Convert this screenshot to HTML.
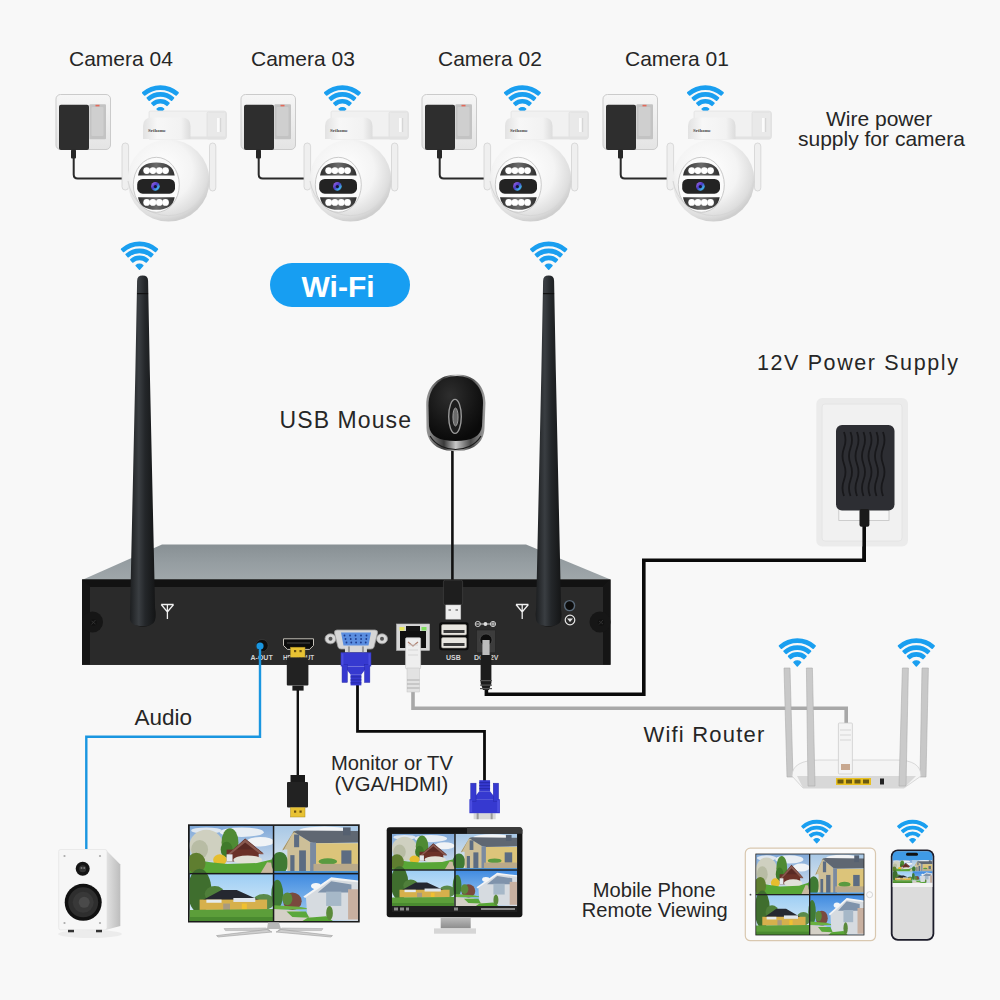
<!DOCTYPE html>
<html><head><meta charset="utf-8"><style>
html,body{margin:0;padding:0;background:#f8f8f8;}
#c{position:relative;width:1000px;height:1000px;overflow:hidden;background:#f8f8f8;}
svg{position:absolute;left:0;top:0;}
text{font-family:"Liberation Sans",sans-serif;fill:#262626;}
</style></head><body><div id="c">
<svg width="1000" height="1000" viewBox="0 0 1000 1000">
<defs>
<radialGradient id="ballg" cx="0.42" cy="0.38" r="0.62">
<stop offset="0" stop-color="#ffffff"/><stop offset="0.6" stop-color="#f4f4f4"/><stop offset="0.9" stop-color="#dedede"/><stop offset="1" stop-color="#cfcfcf"/></radialGradient>
<linearGradient id="capg" x1="0" x2="1" y1="0" y2="0">
<stop offset="0" stop-color="#e2e2e2"/><stop offset="0.3" stop-color="#f7f7f7"/><stop offset="0.8" stop-color="#f2f2f2"/><stop offset="1" stop-color="#dcdcdc"/></linearGradient>
<linearGradient id="plateg" x1="0" x2="0" y1="0" y2="1">
<stop offset="0" stop-color="#f6f6f6"/><stop offset="1" stop-color="#e4e4e4"/></linearGradient>
<linearGradient id="ledg" x1="0" x2="1" y1="0" y2="0">
<stop offset="0" stop-color="#2e2e2e"/><stop offset="0.5" stop-color="#6a6a6a"/><stop offset="1" stop-color="#2e2e2e"/></linearGradient>
<linearGradient id="lensg" x1="0" x2="1" y1="0" y2="1">
<stop offset="0" stop-color="#b070e8"/><stop offset="0.45" stop-color="#4a3ac8"/><stop offset="0.75" stop-color="#40b0e8"/><stop offset="1" stop-color="#20204a"/></linearGradient>
<linearGradient id="antg" x1="0" x2="1" y1="0" y2="0">
<stop offset="0" stop-color="#1c1e20"/><stop offset="0.35" stop-color="#3a3e42"/><stop offset="0.6" stop-color="#24272a"/><stop offset="1" stop-color="#141516"/></linearGradient>
<linearGradient id="topg" x1="0" x2="0" y1="0" y2="1">
<stop offset="0" stop-color="#889094"/><stop offset="0.5" stop-color="#959da1"/><stop offset="1" stop-color="#a0a7aa"/></linearGradient>
<linearGradient id="standg" x1="0" x2="0" y1="0" y2="1">
<stop offset="0" stop-color="#bdbdbd"/><stop offset="1" stop-color="#8c8c8c"/></linearGradient>
<linearGradient id="skyA" x1="0" x2="0" y1="0" y2="1"><stop offset="0" stop-color="#7fa8d8"/><stop offset="1" stop-color="#dde8f2"/></linearGradient>
<linearGradient id="skyB" x1="0" x2="0" y1="0" y2="1"><stop offset="0" stop-color="#a8c8e6"/><stop offset="1" stop-color="#e6ecf0"/></linearGradient>
<linearGradient id="skyC" x1="0" x2="0" y1="0" y2="1"><stop offset="0" stop-color="#9ccdf4"/><stop offset="1" stop-color="#e2f0f8"/></linearGradient>
<linearGradient id="skyD" x1="0" x2="0" y1="0" y2="1"><stop offset="0" stop-color="#3f8ae0"/><stop offset="1" stop-color="#a8d0f2"/></linearGradient>
<filter id="blur1" x="-50%" y="-50%" width="200%" height="200%"><feGaussianBlur stdDeviation="0.7"/></filter>
<symbol id="photos" viewBox="0 0 200 120" preserveAspectRatio="none">
<g>
<rect x="0" y="0" width="100" height="60" fill="url(#skyA)"/>
<ellipse cx="62" cy="8" rx="26" ry="6" fill="#e8eef4"/><ellipse cx="84" cy="20" rx="16" ry="6" fill="#f0f3f6"/><ellipse cx="20" cy="6" rx="18" ry="4" fill="#dfe7ef"/>
<ellipse cx="20" cy="25" rx="20" ry="20" fill="#cfd0c0"/><ellipse cx="12" cy="30" rx="10" ry="12" fill="#b8bca4"/>
<ellipse cx="48" cy="21" rx="10" ry="18" fill="#4f8a34"/><ellipse cx="44" cy="30" rx="7" ry="10" fill="#3f7a2a"/>
<polygon points="44,37 66,16 88,35" fill="#5a2a24"/>
<rect x="44" y="30" width="38" height="15" fill="#6b3228"/>
<polygon points="44,37 66,17 88,36 84,36 66,21 46,38" fill="#8a5a50"/>
<rect x="44" y="36" width="7" height="9" fill="#e4e8ec"/>
<ellipse cx="69" cy="43" rx="17" ry="5.5" fill="#e2e2d8"/>
<ellipse cx="36" cy="43" rx="8" ry="7" fill="#e6be2e"/>
<polygon points="0,42 25,46 45,48 80,47 100,42 100,60 0,60" fill="#58a636"/>
<polygon points="84,60 100,60 100,47 92,46" fill="#c9b9a0"/>
<ellipse cx="8" cy="47" rx="11" ry="13" fill="#5f7e30"/>
</g>
<g transform="translate(100,0)">
<rect x="0" y="0" width="100" height="60" fill="url(#skyB)"/>
<ellipse cx="60" cy="6" rx="30" ry="5" fill="#f2f4f6"/>
<ellipse cx="7" cy="47" rx="10" ry="14" fill="#3f7a34"/>
<polygon points="10,30 23.5,7.5 44,21 44,58 16,58 16,30" fill="#cdbf98"/>
<polygon points="10,31 23.5,7 28,6 22,10 12,30" fill="#9a8a60"/>
<polygon points="23.5,7.5 28,6 100,6.7 100,21 49,22 44,21" fill="#5f6772"/>
<rect x="49" y="22" width="51" height="28" fill="#dcc47a"/>
<rect x="82" y="2" width="9" height="10" fill="#556070"/>
<rect x="24" y="11" width="6" height="16" fill="#5c6c82"/><rect x="19.5" y="37" width="5" height="21" fill="#5c6c82"/><rect x="30" y="31" width="8" height="27" fill="#5c6c82"/><rect x="80" y="31" width="12" height="17" fill="#5c6c82"/>
<rect x="43" y="21" width="7" height="37" fill="#7a8aa0"/>
<ellipse cx="64" cy="45" rx="11" ry="4" fill="#5a9a40"/>
<rect x="47" y="48" width="53" height="9" fill="#b9a98a"/>
<rect x="0" y="57" width="100" height="3" fill="#4a90d0"/>
</g>
<g transform="translate(0,60)">
<rect x="0" y="0" width="100" height="60" fill="url(#skyC)"/>
<ellipse cx="12" cy="22" rx="14" ry="28" fill="#3f6e2e"/>
<ellipse cx="30" cy="26" rx="12" ry="10" fill="#4f7f3a"/>
<ellipse cx="88" cy="36" rx="13" ry="10" fill="#5a8a4a"/>
<polygon points="13,35 38,21 56,21 75,30 86,35" fill="#252830"/>
<rect x="12" y="33" width="80" height="13" fill="#d6b04c"/>
<rect x="20" y="33" width="18" height="4" fill="#e4eaee"/><rect x="52" y="31" width="26" height="5" fill="#dfe5ea"/>
<rect x="40" y="38" width="8" height="8" fill="#a89a80"/><rect x="62" y="38" width="6" height="8" fill="#f0c030"/>
<polygon points="0,46 100,45 100,60 0,60" fill="#5c9e3a"/>
<rect x="0" y="55" width="100" height="5" fill="#4a8a30"/>
</g>
<g transform="translate(100,60)">
<rect x="0" y="0" width="100" height="60" fill="url(#skyD)"/>
<ellipse cx="50" cy="16" rx="6" ry="4" fill="#f4f6f8"/>
<ellipse cx="4" cy="26" rx="7" ry="18" fill="#3f7a35"/>
<ellipse cx="22" cy="35" rx="11" ry="11" fill="#7a4a3e"/><ellipse cx="16" cy="32" rx="6" ry="8" fill="#5a8a3a"/>
<polygon points="0,40 30,42 45,45 0,46" fill="#6ab040"/>
<polygon points="38,30 68,6 100,10 100,60 40,58" fill="#d6dbe0"/>
<polygon points="52,24 68,10 92,14 92,24" fill="#7f93ab"/>
<polygon points="35,29 68,5 100,9 100,11 68,8 37,31" fill="#f4f4f4"/>
<rect x="62" y="23" width="18" height="18" fill="#a6b8c8"/>
<rect x="88" y="20" width="12" height="38" fill="#c8b0a0"/>
<polygon points="0,60 0,45 30,47 50,58 50,60" fill="#d4d0c6"/>
<polygon points="15,48 38,48 42,56 22,55" fill="#5aa83a"/>
<polygon points="34,60 40,56 62,54 70,60" fill="#58a636"/>
<ellipse cx="66" cy="50" rx="4" ry="9" fill="#5a8a3a"/>
</g>
</symbol>
</defs>

<rect width="1000" height="1000" fill="#f8f8f8"/>
<g transform="translate(0,0)"><rect x="56" y="94.5" width="54.5" height="55" rx="4.5" fill="url(#plateg)" stroke="#cbcbcb" stroke-width="1"/><rect x="89.4" y="104.2" width="16.6" height="35" rx="1" fill="#c3c3c3"/><rect x="91.5" y="107" width="12" height="29" rx="1" fill="#cfcfcf"/><rect x="95.5" y="104.8" width="4" height="1.6" fill="#e46a5a"/><rect x="59" y="104.7" width="30" height="45.2" rx="2" fill="#2e2e2e"/><rect x="71" y="149.5" width="5" height="9" rx="1" fill="#262626"/><path d="M73.7,158 V174.5 Q73.7,178.5 77.7,178.5 H122" stroke="#2a2a2a" stroke-width="2" fill="none"/></g>
<g transform="translate(185,0)"><rect x="56" y="94.5" width="54.5" height="55" rx="4.5" fill="url(#plateg)" stroke="#cbcbcb" stroke-width="1"/><rect x="89.4" y="104.2" width="16.6" height="35" rx="1" fill="#c3c3c3"/><rect x="91.5" y="107" width="12" height="29" rx="1" fill="#cfcfcf"/><rect x="95.5" y="104.8" width="4" height="1.6" fill="#e46a5a"/><rect x="59" y="104.7" width="30" height="45.2" rx="2" fill="#2e2e2e"/><rect x="71" y="149.5" width="5" height="9" rx="1" fill="#262626"/><path d="M73.7,158 V174.5 Q73.7,178.5 77.7,178.5 H122" stroke="#2a2a2a" stroke-width="2" fill="none"/></g>
<g transform="translate(366,0)"><rect x="56" y="94.5" width="54.5" height="55" rx="4.5" fill="url(#plateg)" stroke="#cbcbcb" stroke-width="1"/><rect x="89.4" y="104.2" width="16.6" height="35" rx="1" fill="#c3c3c3"/><rect x="91.5" y="107" width="12" height="29" rx="1" fill="#cfcfcf"/><rect x="95.5" y="104.8" width="4" height="1.6" fill="#e46a5a"/><rect x="59" y="104.7" width="30" height="45.2" rx="2" fill="#2e2e2e"/><rect x="71" y="149.5" width="5" height="9" rx="1" fill="#262626"/><path d="M73.7,158 V174.5 Q73.7,178.5 77.7,178.5 H122" stroke="#2a2a2a" stroke-width="2" fill="none"/></g>
<g transform="translate(547,0)"><rect x="56" y="94.5" width="54.5" height="55" rx="4.5" fill="url(#plateg)" stroke="#cbcbcb" stroke-width="1"/><rect x="89.4" y="104.2" width="16.6" height="35" rx="1" fill="#c3c3c3"/><rect x="91.5" y="107" width="12" height="29" rx="1" fill="#cfcfcf"/><rect x="95.5" y="104.8" width="4" height="1.6" fill="#e46a5a"/><rect x="59" y="104.7" width="30" height="45.2" rx="2" fill="#2e2e2e"/><rect x="71" y="149.5" width="5" height="9" rx="1" fill="#262626"/><path d="M73.7,158 V174.5 Q73.7,178.5 77.7,178.5 H122" stroke="#2a2a2a" stroke-width="2" fill="none"/></g>
<g transform="translate(0,0)"><path d="M142.87,92.78 A26.46,26.46 0 0 1 177.93,92.78 L176.06,94.90 A23.63,23.63 0 0 0 144.74,94.90 Z" fill="#1a9ff0" stroke="#1a9ff0" stroke-width="1.82" stroke-linejoin="round"/><path d="M147.42,97.92 A19.59,19.59 0 0 1 173.38,97.92 L171.51,100.04 A16.77,16.77 0 0 0 149.29,100.04 Z" fill="#1a9ff0" stroke="#1a9ff0" stroke-width="1.82" stroke-linejoin="round"/><path d="M151.97,103.07 A12.73,12.73 0 0 1 168.83,103.07 L166.96,105.19 A9.90,9.90 0 0 0 153.84,105.19 Z" fill="#1a9ff0" stroke="#1a9ff0" stroke-width="1.82" stroke-linejoin="round"/><path d="M160.40,112.60 L157.09,108.92 A4.95,4.95 0 0 1 163.71,108.92 Z" fill="#1a9ff0" stroke="#1a9ff0" stroke-width="1.41" stroke-linejoin="round"/><path d="M149,112 Q149,111 151,111 H224 Q226.5,111 226.5,114 V136 Q226.5,139 224,139 H149 Z" fill="#f1f1f1" stroke="#e2e2e2" stroke-width="0.8"/><rect x="207" y="112" width="19" height="27" rx="1.5" fill="#e9e9e9" stroke="#dadada" stroke-width="0.6"/><rect x="217" y="118" width="2.5" height="14" fill="#fbfbfb"/><rect x="220" y="118" width="1.2" height="14" fill="#d6d6d6"/><rect x="150" y="136.5" width="76" height="2.5" fill="#e2e2e2"/><rect x="122" y="143" width="6.6" height="47" rx="3.2" fill="#efefef" stroke="#d2d2d2" stroke-width="0.8"/><rect x="209.5" y="143" width="6.3" height="48" rx="3.1" fill="#efefef" stroke="#d2d2d2" stroke-width="0.8"/><path d="M143,139 V126 Q143,117.5 152,117.5 H181.5 Q190.5,117.5 190.5,126 V139 Z" fill="url(#capg)"/><text x="148" y="131.8" style="font-size:5px;font-weight:700;font-family:'Liberation Serif',serif;fill:#4a4a4a">Srihome</text><circle cx="168.5" cy="180.5" r="41" fill="url(#ballg)"/><path d="M128,181 A41,41 0 0 0 209,181" fill="none" stroke="#d6d6d6" stroke-width="1"/><ellipse cx="156.3" cy="184.8" rx="23" ry="27.5" fill="#fbfbfb" stroke="#c4c4c4" stroke-width="0.9"/><path d="M138,175.5 Q140,162.6 156.3,162.6 Q172.7,162.6 174.7,175.5 Z" fill="url(#ledg)"/><path d="M138,197.2 Q140,209.8 156.3,209.8 Q172.7,209.8 174.7,197.2 Z" fill="url(#ledg)"/><g filter="url(#blur1)"><circle cx="146.7" cy="170.6" r="3.4" fill="#f4f4f4"/><circle cx="146.7" cy="202.4" r="3.4" fill="#f4f4f4"/><circle cx="152.9" cy="170.6" r="3.4" fill="#f4f4f4"/><circle cx="152.9" cy="202.4" r="3.4" fill="#f4f4f4"/><circle cx="159.3" cy="170.6" r="3.4" fill="#f4f4f4"/><circle cx="159.3" cy="202.4" r="3.4" fill="#f4f4f4"/><circle cx="165.5" cy="170.6" r="3.4" fill="#f4f4f4"/><circle cx="165.5" cy="202.4" r="3.4" fill="#f4f4f4"/></g><circle cx="146.7" cy="170.6" r="2.8" fill="#ffffff"/><circle cx="146.7" cy="202.4" r="2.8" fill="#ffffff"/><circle cx="152.9" cy="170.6" r="2.8" fill="#ffffff"/><circle cx="152.9" cy="202.4" r="2.8" fill="#ffffff"/><circle cx="159.3" cy="170.6" r="2.8" fill="#ffffff"/><circle cx="159.3" cy="202.4" r="2.8" fill="#ffffff"/><circle cx="165.5" cy="170.6" r="2.8" fill="#ffffff"/><circle cx="165.5" cy="202.4" r="2.8" fill="#ffffff"/><rect x="137.2" y="179" width="37.8" height="14.7" rx="5.5" fill="#232323"/><circle cx="155.4" cy="186.4" r="4.3" fill="url(#lensg)"/><circle cx="155.4" cy="186.6" r="1.6" fill="#151530"/></g>
<g transform="translate(182,0)"><path d="M142.87,92.78 A26.46,26.46 0 0 1 177.93,92.78 L176.06,94.90 A23.63,23.63 0 0 0 144.74,94.90 Z" fill="#1a9ff0" stroke="#1a9ff0" stroke-width="1.82" stroke-linejoin="round"/><path d="M147.42,97.92 A19.59,19.59 0 0 1 173.38,97.92 L171.51,100.04 A16.77,16.77 0 0 0 149.29,100.04 Z" fill="#1a9ff0" stroke="#1a9ff0" stroke-width="1.82" stroke-linejoin="round"/><path d="M151.97,103.07 A12.73,12.73 0 0 1 168.83,103.07 L166.96,105.19 A9.90,9.90 0 0 0 153.84,105.19 Z" fill="#1a9ff0" stroke="#1a9ff0" stroke-width="1.82" stroke-linejoin="round"/><path d="M160.40,112.60 L157.09,108.92 A4.95,4.95 0 0 1 163.71,108.92 Z" fill="#1a9ff0" stroke="#1a9ff0" stroke-width="1.41" stroke-linejoin="round"/><path d="M149,112 Q149,111 151,111 H224 Q226.5,111 226.5,114 V136 Q226.5,139 224,139 H149 Z" fill="#f1f1f1" stroke="#e2e2e2" stroke-width="0.8"/><rect x="207" y="112" width="19" height="27" rx="1.5" fill="#e9e9e9" stroke="#dadada" stroke-width="0.6"/><rect x="217" y="118" width="2.5" height="14" fill="#fbfbfb"/><rect x="220" y="118" width="1.2" height="14" fill="#d6d6d6"/><rect x="150" y="136.5" width="76" height="2.5" fill="#e2e2e2"/><rect x="122" y="143" width="6.6" height="47" rx="3.2" fill="#efefef" stroke="#d2d2d2" stroke-width="0.8"/><rect x="209.5" y="143" width="6.3" height="48" rx="3.1" fill="#efefef" stroke="#d2d2d2" stroke-width="0.8"/><path d="M143,139 V126 Q143,117.5 152,117.5 H181.5 Q190.5,117.5 190.5,126 V139 Z" fill="url(#capg)"/><text x="148" y="131.8" style="font-size:5px;font-weight:700;font-family:'Liberation Serif',serif;fill:#4a4a4a">Srihome</text><circle cx="168.5" cy="180.5" r="41" fill="url(#ballg)"/><path d="M128,181 A41,41 0 0 0 209,181" fill="none" stroke="#d6d6d6" stroke-width="1"/><ellipse cx="156.3" cy="184.8" rx="23" ry="27.5" fill="#fbfbfb" stroke="#c4c4c4" stroke-width="0.9"/><path d="M138,175.5 Q140,162.6 156.3,162.6 Q172.7,162.6 174.7,175.5 Z" fill="url(#ledg)"/><path d="M138,197.2 Q140,209.8 156.3,209.8 Q172.7,209.8 174.7,197.2 Z" fill="url(#ledg)"/><g filter="url(#blur1)"><circle cx="146.7" cy="170.6" r="3.4" fill="#f4f4f4"/><circle cx="146.7" cy="202.4" r="3.4" fill="#f4f4f4"/><circle cx="152.9" cy="170.6" r="3.4" fill="#f4f4f4"/><circle cx="152.9" cy="202.4" r="3.4" fill="#f4f4f4"/><circle cx="159.3" cy="170.6" r="3.4" fill="#f4f4f4"/><circle cx="159.3" cy="202.4" r="3.4" fill="#f4f4f4"/><circle cx="165.5" cy="170.6" r="3.4" fill="#f4f4f4"/><circle cx="165.5" cy="202.4" r="3.4" fill="#f4f4f4"/></g><circle cx="146.7" cy="170.6" r="2.8" fill="#ffffff"/><circle cx="146.7" cy="202.4" r="2.8" fill="#ffffff"/><circle cx="152.9" cy="170.6" r="2.8" fill="#ffffff"/><circle cx="152.9" cy="202.4" r="2.8" fill="#ffffff"/><circle cx="159.3" cy="170.6" r="2.8" fill="#ffffff"/><circle cx="159.3" cy="202.4" r="2.8" fill="#ffffff"/><circle cx="165.5" cy="170.6" r="2.8" fill="#ffffff"/><circle cx="165.5" cy="202.4" r="2.8" fill="#ffffff"/><rect x="137.2" y="179" width="37.8" height="14.7" rx="5.5" fill="#232323"/><circle cx="155.4" cy="186.4" r="4.3" fill="url(#lensg)"/><circle cx="155.4" cy="186.6" r="1.6" fill="#151530"/></g>
<g transform="translate(362,0)"><path d="M142.87,92.78 A26.46,26.46 0 0 1 177.93,92.78 L176.06,94.90 A23.63,23.63 0 0 0 144.74,94.90 Z" fill="#1a9ff0" stroke="#1a9ff0" stroke-width="1.82" stroke-linejoin="round"/><path d="M147.42,97.92 A19.59,19.59 0 0 1 173.38,97.92 L171.51,100.04 A16.77,16.77 0 0 0 149.29,100.04 Z" fill="#1a9ff0" stroke="#1a9ff0" stroke-width="1.82" stroke-linejoin="round"/><path d="M151.97,103.07 A12.73,12.73 0 0 1 168.83,103.07 L166.96,105.19 A9.90,9.90 0 0 0 153.84,105.19 Z" fill="#1a9ff0" stroke="#1a9ff0" stroke-width="1.82" stroke-linejoin="round"/><path d="M160.40,112.60 L157.09,108.92 A4.95,4.95 0 0 1 163.71,108.92 Z" fill="#1a9ff0" stroke="#1a9ff0" stroke-width="1.41" stroke-linejoin="round"/><path d="M149,112 Q149,111 151,111 H224 Q226.5,111 226.5,114 V136 Q226.5,139 224,139 H149 Z" fill="#f1f1f1" stroke="#e2e2e2" stroke-width="0.8"/><rect x="207" y="112" width="19" height="27" rx="1.5" fill="#e9e9e9" stroke="#dadada" stroke-width="0.6"/><rect x="217" y="118" width="2.5" height="14" fill="#fbfbfb"/><rect x="220" y="118" width="1.2" height="14" fill="#d6d6d6"/><rect x="150" y="136.5" width="76" height="2.5" fill="#e2e2e2"/><rect x="122" y="143" width="6.6" height="47" rx="3.2" fill="#efefef" stroke="#d2d2d2" stroke-width="0.8"/><rect x="209.5" y="143" width="6.3" height="48" rx="3.1" fill="#efefef" stroke="#d2d2d2" stroke-width="0.8"/><path d="M143,139 V126 Q143,117.5 152,117.5 H181.5 Q190.5,117.5 190.5,126 V139 Z" fill="url(#capg)"/><text x="148" y="131.8" style="font-size:5px;font-weight:700;font-family:'Liberation Serif',serif;fill:#4a4a4a">Srihome</text><circle cx="168.5" cy="180.5" r="41" fill="url(#ballg)"/><path d="M128,181 A41,41 0 0 0 209,181" fill="none" stroke="#d6d6d6" stroke-width="1"/><ellipse cx="156.3" cy="184.8" rx="23" ry="27.5" fill="#fbfbfb" stroke="#c4c4c4" stroke-width="0.9"/><path d="M138,175.5 Q140,162.6 156.3,162.6 Q172.7,162.6 174.7,175.5 Z" fill="url(#ledg)"/><path d="M138,197.2 Q140,209.8 156.3,209.8 Q172.7,209.8 174.7,197.2 Z" fill="url(#ledg)"/><g filter="url(#blur1)"><circle cx="146.7" cy="170.6" r="3.4" fill="#f4f4f4"/><circle cx="146.7" cy="202.4" r="3.4" fill="#f4f4f4"/><circle cx="152.9" cy="170.6" r="3.4" fill="#f4f4f4"/><circle cx="152.9" cy="202.4" r="3.4" fill="#f4f4f4"/><circle cx="159.3" cy="170.6" r="3.4" fill="#f4f4f4"/><circle cx="159.3" cy="202.4" r="3.4" fill="#f4f4f4"/><circle cx="165.5" cy="170.6" r="3.4" fill="#f4f4f4"/><circle cx="165.5" cy="202.4" r="3.4" fill="#f4f4f4"/></g><circle cx="146.7" cy="170.6" r="2.8" fill="#ffffff"/><circle cx="146.7" cy="202.4" r="2.8" fill="#ffffff"/><circle cx="152.9" cy="170.6" r="2.8" fill="#ffffff"/><circle cx="152.9" cy="202.4" r="2.8" fill="#ffffff"/><circle cx="159.3" cy="170.6" r="2.8" fill="#ffffff"/><circle cx="159.3" cy="202.4" r="2.8" fill="#ffffff"/><circle cx="165.5" cy="170.6" r="2.8" fill="#ffffff"/><circle cx="165.5" cy="202.4" r="2.8" fill="#ffffff"/><rect x="137.2" y="179" width="37.8" height="14.7" rx="5.5" fill="#232323"/><circle cx="155.4" cy="186.4" r="4.3" fill="url(#lensg)"/><circle cx="155.4" cy="186.6" r="1.6" fill="#151530"/></g>
<g transform="translate(545,0)"><path d="M142.87,92.78 A26.46,26.46 0 0 1 177.93,92.78 L176.06,94.90 A23.63,23.63 0 0 0 144.74,94.90 Z" fill="#1a9ff0" stroke="#1a9ff0" stroke-width="1.82" stroke-linejoin="round"/><path d="M147.42,97.92 A19.59,19.59 0 0 1 173.38,97.92 L171.51,100.04 A16.77,16.77 0 0 0 149.29,100.04 Z" fill="#1a9ff0" stroke="#1a9ff0" stroke-width="1.82" stroke-linejoin="round"/><path d="M151.97,103.07 A12.73,12.73 0 0 1 168.83,103.07 L166.96,105.19 A9.90,9.90 0 0 0 153.84,105.19 Z" fill="#1a9ff0" stroke="#1a9ff0" stroke-width="1.82" stroke-linejoin="round"/><path d="M160.40,112.60 L157.09,108.92 A4.95,4.95 0 0 1 163.71,108.92 Z" fill="#1a9ff0" stroke="#1a9ff0" stroke-width="1.41" stroke-linejoin="round"/><path d="M149,112 Q149,111 151,111 H224 Q226.5,111 226.5,114 V136 Q226.5,139 224,139 H149 Z" fill="#f1f1f1" stroke="#e2e2e2" stroke-width="0.8"/><rect x="207" y="112" width="19" height="27" rx="1.5" fill="#e9e9e9" stroke="#dadada" stroke-width="0.6"/><rect x="217" y="118" width="2.5" height="14" fill="#fbfbfb"/><rect x="220" y="118" width="1.2" height="14" fill="#d6d6d6"/><rect x="150" y="136.5" width="76" height="2.5" fill="#e2e2e2"/><rect x="122" y="143" width="6.6" height="47" rx="3.2" fill="#efefef" stroke="#d2d2d2" stroke-width="0.8"/><rect x="209.5" y="143" width="6.3" height="48" rx="3.1" fill="#efefef" stroke="#d2d2d2" stroke-width="0.8"/><path d="M143,139 V126 Q143,117.5 152,117.5 H181.5 Q190.5,117.5 190.5,126 V139 Z" fill="url(#capg)"/><text x="148" y="131.8" style="font-size:5px;font-weight:700;font-family:'Liberation Serif',serif;fill:#4a4a4a">Srihome</text><circle cx="168.5" cy="180.5" r="41" fill="url(#ballg)"/><path d="M128,181 A41,41 0 0 0 209,181" fill="none" stroke="#d6d6d6" stroke-width="1"/><ellipse cx="156.3" cy="184.8" rx="23" ry="27.5" fill="#fbfbfb" stroke="#c4c4c4" stroke-width="0.9"/><path d="M138,175.5 Q140,162.6 156.3,162.6 Q172.7,162.6 174.7,175.5 Z" fill="url(#ledg)"/><path d="M138,197.2 Q140,209.8 156.3,209.8 Q172.7,209.8 174.7,197.2 Z" fill="url(#ledg)"/><g filter="url(#blur1)"><circle cx="146.7" cy="170.6" r="3.4" fill="#f4f4f4"/><circle cx="146.7" cy="202.4" r="3.4" fill="#f4f4f4"/><circle cx="152.9" cy="170.6" r="3.4" fill="#f4f4f4"/><circle cx="152.9" cy="202.4" r="3.4" fill="#f4f4f4"/><circle cx="159.3" cy="170.6" r="3.4" fill="#f4f4f4"/><circle cx="159.3" cy="202.4" r="3.4" fill="#f4f4f4"/><circle cx="165.5" cy="170.6" r="3.4" fill="#f4f4f4"/><circle cx="165.5" cy="202.4" r="3.4" fill="#f4f4f4"/></g><circle cx="146.7" cy="170.6" r="2.8" fill="#ffffff"/><circle cx="146.7" cy="202.4" r="2.8" fill="#ffffff"/><circle cx="152.9" cy="170.6" r="2.8" fill="#ffffff"/><circle cx="152.9" cy="202.4" r="2.8" fill="#ffffff"/><circle cx="159.3" cy="170.6" r="2.8" fill="#ffffff"/><circle cx="159.3" cy="202.4" r="2.8" fill="#ffffff"/><circle cx="165.5" cy="170.6" r="2.8" fill="#ffffff"/><circle cx="165.5" cy="202.4" r="2.8" fill="#ffffff"/><rect x="137.2" y="179" width="37.8" height="14.7" rx="5.5" fill="#232323"/><circle cx="155.4" cy="186.4" r="4.3" fill="url(#lensg)"/><circle cx="155.4" cy="186.6" r="1.6" fill="#151530"/></g>
<text x="69" y="66" style="font-size:21px;">Camera 04</text>
<text x="251" y="66" style="font-size:21px;">Camera 03</text>
<text x="438" y="66" style="font-size:21px;">Camera 02</text>
<text x="625" y="66" style="font-size:21px;">Camera 01</text>
<text x="826" y="125.6" style="font-size:21px;">Wire power</text>
<text x="798" y="145.6" style="font-size:21px;">supply for camera</text>


<rect x="270" y="263" width="140" height="44" rx="22" fill="#179ef2"/>
<text x="301.5" y="296.6" style="font-size:30px;font-weight:700;fill:#ffffff">Wi-Fi</text>
<text x="279.5" y="427.5" style="font-size:23px;letter-spacing:1.1px">USB Mouse</text>
<text x="757" y="369.7" style="font-size:21.5px;letter-spacing:1.6px">12V Power Supply</text>
<text x="134.5" y="724.5" style="font-size:22.5px;">Audio</text>
<text x="643.5" y="742" style="font-size:22px;letter-spacing:1.2px">Wifi Router</text>
<text x="331" y="769.5" style="font-size:20.2px;">Monitor or TV</text>
<text x="334.5" y="791.2" style="font-size:20.3px;">(VGA/HDMI)</text>
<text x="592.8" y="897" style="font-size:20.1px;">Mobile Phone</text>
<text x="581.8" y="916.8" style="font-size:20.1px;">Remote Viewing</text>
<path d="M121.71,249.19 A26.86,26.86 0 0 1 157.29,249.19 L155.39,251.34 A23.98,23.98 0 0 0 123.61,251.34 Z" fill="#1a9ff0" stroke="#1a9ff0" stroke-width="1.84" stroke-linejoin="round"/><path d="M126.32,254.41 A19.89,19.89 0 0 1 152.68,254.41 L150.77,256.56 A17.01,17.01 0 0 0 128.23,256.56 Z" fill="#1a9ff0" stroke="#1a9ff0" stroke-width="1.84" stroke-linejoin="round"/><path d="M130.94,259.63 A12.91,12.91 0 0 1 148.06,259.63 L146.16,261.78 A10.04,10.04 0 0 0 132.84,261.78 Z" fill="#1a9ff0" stroke="#1a9ff0" stroke-width="1.84" stroke-linejoin="round"/><path d="M139.50,269.30 L136.14,265.57 A5.02,5.02 0 0 1 142.86,265.57 Z" fill="#1a9ff0" stroke="#1a9ff0" stroke-width="1.43" stroke-linejoin="round"/>
<path d="M530.91,249.19 A26.86,26.86 0 0 1 566.49,249.19 L564.59,251.34 A23.98,23.98 0 0 0 532.81,251.34 Z" fill="#1a9ff0" stroke="#1a9ff0" stroke-width="1.84" stroke-linejoin="round"/><path d="M535.52,254.41 A19.89,19.89 0 0 1 561.88,254.41 L559.97,256.56 A17.01,17.01 0 0 0 537.43,256.56 Z" fill="#1a9ff0" stroke="#1a9ff0" stroke-width="1.84" stroke-linejoin="round"/><path d="M540.14,259.63 A12.91,12.91 0 0 1 557.26,259.63 L555.36,261.78 A10.04,10.04 0 0 0 542.04,261.78 Z" fill="#1a9ff0" stroke="#1a9ff0" stroke-width="1.84" stroke-linejoin="round"/><path d="M548.70,269.30 L545.34,265.57 A5.02,5.02 0 0 1 552.06,265.57 Z" fill="#1a9ff0" stroke="#1a9ff0" stroke-width="1.43" stroke-linejoin="round"/>
<polygon points="82,580 162,544.5 526,544.5 610.5,579.5" fill="url(#topg)"/>
<rect x="82" y="579.5" width="528.5" height="85.3" fill="#1b1b1b"/>
<polygon points="82,579.5 610.5,579.5 603,587 90,587" fill="#121212"/>
<rect x="90" y="587" width="513" height="77.8" fill="#2a2a2a"/>
<polygon points="82,579.5 90,587 90,664.8 82,664.8" fill="#151515"/>
<polygon points="610.5,579.5 603,587 603,664.8 610.5,664.8" fill="#151515"/>
<circle cx="92.5" cy="622" r="10.5" fill="#161616"/>
<circle cx="93.5" cy="622.5" r="3.2" fill="#111"/><path d="M91.5,621 L95.5,624 M95.5,620 L91.5,624.5" stroke="#333" stroke-width="0.9"/>
<circle cx="600" cy="622" r="10.5" fill="#161616"/>
<circle cx="601" cy="622.5" r="3.2" fill="#111"/><path d="M599,621 L603,624 M603,620 L599,624.5" stroke="#333" stroke-width="0.9"/>
<path d="M161.20000000000002,604.5 L167.4,612 L173.6,604.5 M161.20000000000002,604.5 H173.6 M167.4,604.5 V619" stroke="#f0f0f0" stroke-width="1.3" fill="none"/>
<path d="M516.0,604.5 L522.2,612 L528.4000000000001,604.5 M516.0,604.5 H528.4000000000001 M522.2,604.5 V619" stroke="#f0f0f0" stroke-width="1.3" fill="none"/>
<circle cx="569.6" cy="605.6" r="5" fill="#0c0c0c" stroke="#5a6a7a" stroke-width="1.4"/>
<circle cx="570" cy="620" r="4.8" fill="none" stroke="#e6e6e6" stroke-width="1.2"/>
<path d="M567,618.5 H573 L570,622 Z" fill="#e6e6e6"/>
<circle cx="143" cy="614" r="13" fill="#1c1c1c"/><circle cx="548.6" cy="614" r="13" fill="#1c1c1c"/>
<path d="M137.1,281 Q137.1,275.6 142.6,275.6 Q148.1,275.6 148.1,281 L149.79999999999998,370 L155.29999999999998,618 Q155.29999999999998,626 142.6,626 Q129.9,626 129.9,618 L135.4,370 Z" fill="url(#antg)"/><rect x="137.1" y="293" width="11" height="1.2" fill="#111"/>
<path d="M543.1,281 Q543.1,275.6 548.6,275.6 Q554.1,275.6 554.1,281 L555.8000000000001,370 L561.3000000000001,618 Q561.3000000000001,626 548.6,626 Q535.9,626 535.9,618 L541.4,370 Z" fill="url(#antg)"/><rect x="543.1" y="293" width="11" height="1.2" fill="#111"/>
<circle cx="262" cy="645.6" r="6.2" fill="#0e0e0e" stroke="#3a3a3a" stroke-width="0.8"/>
<text x="250.5" y="660" style="font-size:7px;font-weight:700;fill:#d4d4d4">A-OUT</text>
<path d="M283.5,638.8 H313.5 V645.5 L309.5,649.4 H287.5 L283.5,645.5 Z" fill="#0c0c0c" stroke="#c4c0b8" stroke-width="1"/><rect x="287" y="642" width="23" height="2" fill="#2a2a2a"/>
<text x="283" y="660" style="font-size:6.3px;font-weight:700;fill:#d4d4d4">HDMI OUT</text>
<ellipse cx="330.5" cy="638.8" rx="5.5" ry="5" fill="#d8d8d8" stroke="#9a9a9a" stroke-width="0.8"/><circle cx="330.5" cy="638.8" r="2" fill="#555"/>
<ellipse cx="382" cy="638.8" rx="5.5" ry="5" fill="#d8d8d8" stroke="#9a9a9a" stroke-width="0.8"/><circle cx="382" cy="638.8" r="2" fill="#555"/>
<path d="M337,630 H375 Q378,630 377.5,633 L374,647 Q373.5,649 371,649 H341 Q338.5,649 338,647 L334.5,633 Q334,630 337,630 Z" fill="#d6d6d6" stroke="#a0a0a0" stroke-width="0.8"/>
<path d="M341,632.5 H371 L368.5,645.5 H343.5 Z" fill="#5b8ee0"/>
<circle cx="344.5" cy="635.5" r="0.9" fill="#1d3a8a"/>
<circle cx="350.0" cy="635.5" r="0.9" fill="#1d3a8a"/>
<circle cx="355.5" cy="635.5" r="0.9" fill="#1d3a8a"/>
<circle cx="361.0" cy="635.5" r="0.9" fill="#1d3a8a"/>
<circle cx="366.5" cy="635.5" r="0.9" fill="#1d3a8a"/>
<circle cx="345.5" cy="639" r="0.9" fill="#1d3a8a"/>
<circle cx="350.7" cy="639" r="0.9" fill="#1d3a8a"/>
<circle cx="355.9" cy="639" r="0.9" fill="#1d3a8a"/>
<circle cx="361.1" cy="639" r="0.9" fill="#1d3a8a"/>
<circle cx="366.3" cy="639" r="0.9" fill="#1d3a8a"/>
<circle cx="346.5" cy="642.5" r="0.9" fill="#1d3a8a"/>
<circle cx="351.3" cy="642.5" r="0.9" fill="#1d3a8a"/>
<circle cx="356.1" cy="642.5" r="0.9" fill="#1d3a8a"/>
<circle cx="360.9" cy="642.5" r="0.9" fill="#1d3a8a"/>
<circle cx="365.7" cy="642.5" r="0.9" fill="#1d3a8a"/>
<rect x="396.6" y="624" width="33" height="26.4" fill="#d6d6d6" stroke="#bbb" stroke-width="0.6"/>
<rect x="400" y="631" width="26" height="17" fill="#101010"/>
<rect x="399.5" y="627" width="5" height="3.5" fill="#e8e860"/><rect x="421.5" y="627" width="5" height="3.5" fill="#80e060"/>
<rect x="406" y="626" width="14" height="5" fill="#151515"/>
<rect x="439.2" y="622.2" width="29.4" height="28" rx="2.5" fill="#0b0b0b"/>
<rect x="441.5" y="624.5" width="25" height="10.5" rx="1.5" fill="#e8e6e0" stroke="#9a9890" stroke-width="0.6"/><rect x="443.5" y="630" width="21" height="3" fill="#3a3a3a"/>
<rect x="441.5" y="637.5" width="25" height="10.5" rx="1.5" fill="#e8e6e0" stroke="#9a9890" stroke-width="0.6"/><rect x="443.5" y="643" width="21" height="3" fill="#3a3a3a"/>
<text x="446" y="660" style="font-size:7px;font-weight:700;fill:#d4d4d4">USB</text>
<g stroke="#e0e0e0" stroke-width="0.9" fill="none"><circle cx="477.8" cy="624" r="2.6"/><circle cx="493" cy="624" r="2.6"/><path d="M475.8,624 H479.8 M491,624 H495 M493,622 V626 M480.4,624 H490.4"/></g><circle cx="485.4" cy="624" r="1.9" fill="#e0e0e0"/>
<rect x="476.4" y="630" width="19.2" height="22.8" fill="#3c3c3c" stroke="#222" stroke-width="0.6"/>
<circle cx="486" cy="640" r="6" fill="#0c0c0c" stroke="#555" stroke-width="0.6"/>
<text x="474" y="660" style="font-size:7px;font-weight:700;fill:#d4d4d4">DC 12V</text>
<path d="M452.4,450 V582" stroke="#111" stroke-width="2.6" fill="none"/>
<rect x="443.4" y="580" width="19.2" height="25" rx="2" fill="#1e1e1e" stroke="#444" stroke-width="0.6"/>
<rect x="445.8" y="605" width="15" height="14.2" fill="#efefef" stroke="#bbb" stroke-width="0.5"/>
<rect x="448.5" y="609" width="2.5" height="2" fill="#999"/><rect x="455.5" y="609" width="2.5" height="2" fill="#999"/>
<path d="M864.2,511 V560.3 H643.8 V694.3 H486.4 V660" stroke="#0a0a0a" stroke-width="3.6" fill="none"/>
<rect x="482.4" y="640" width="7.2" height="18" fill="#bcbcbc"/>
<path d="M480.6,655 H491.4 V683 L489,690 H483 L480.6,683 Z" fill="#1c1c1c"/>
<rect x="480" y="680" width="12" height="1.2" fill="#555"/>
<rect x="480" y="684.5" width="12" height="1.2" fill="#555"/>
<rect x="480" y="688" width="12" height="1.2" fill="#555"/>
<path d="M413,690 V708.3 H846.2 V724" stroke="#a8a8a8" stroke-width="3.6" fill="none"/>
<rect x="405.6" y="637.8" width="15" height="31" rx="1" fill="#eeeeee" stroke="#c8c8c8" stroke-width="0.7"/><path d="M408,642 L413,646 L418,642" stroke="#b08070" stroke-width="1.2" fill="none"/>
<rect x="407" y="668" width="12.5" height="24" fill="#e2e2e2" stroke="#c4c4c4" stroke-width="0.5"/><path d="M407,680 H419.5 M407,684 H419.5 M407,688 H419.5" stroke="#a8a8a8" stroke-width="0.9"/>
<path d="M408,645 H418 M408,650 H418 M408,655 H418" stroke="#cfcfcf" stroke-width="0.8"/>
<rect x="290.5" y="647.2" width="14.5" height="10.4" fill="#e8c233" stroke="#a88a20" stroke-width="0.5"/>
<rect x="294" y="650" width="2.2" height="2.2" fill="#6a5010"/><rect x="299.5" y="650" width="2.2" height="2.2" fill="#6a5010"/>
<rect x="286.8" y="657.6" width="21.6" height="28" rx="1" fill="#222"/>
<rect x="292.4" y="685.6" width="11.2" height="5" fill="#1a1a1a"/>
<path d="M297.8,690 V775" stroke="#111" stroke-width="2.4"/>
<rect x="290.5" y="775" width="14.5" height="7" fill="#1a1a1a"/>
<rect x="287" y="782" width="21" height="25.5" rx="1" fill="#222"/>
<rect x="290.5" y="807.5" width="14.5" height="9.5" fill="#e8c233" stroke="#a88a20" stroke-width="0.5"/>
<rect x="294" y="810.5" width="2.2" height="2.2" fill="#6a5010"/><rect x="299.5" y="810.5" width="2.2" height="2.2" fill="#6a5010"/>
<path d="M357.5,683 V731.3 H484.5 V782" stroke="#0a0a0a" stroke-width="2.8" fill="none"/>
<rect x="344.95" y="646.4" width="22" height="6" fill="#d8d8d8"/><rect x="347.95" y="646.4" width="2" height="6" fill="#9a9a9a"/><rect x="361.95" y="646.4" width="2" height="6" fill="#9a9a9a"/><path d="M340.7,652.4 H371.2 V666.4 H340.7 Z" fill="#3639d0"/><path d="M344.2,666.4 H367.7 L361.34999999999997,674.4 H350.55 Z" fill="#3639d0"/><rect x="350.55" y="674.4" width="10.8" height="11" fill="#3639d0"/><rect x="350.55" y="676.4" width="10.8" height="1" fill="#2629a8"/><rect x="350.55" y="679.4" width="10.8" height="1" fill="#2629a8"/><rect x="350.55" y="682.4" width="10.8" height="1" fill="#2629a8"/><rect x="342.05" y="664.4" width="5.3" height="18" fill="#3639d0" stroke="#2629a8" stroke-width="0.5"/><rect x="364.55" y="664.4" width="5.3" height="18" fill="#3639d0" stroke="#2629a8" stroke-width="0.5"/><rect x="341.45" y="653.4" width="2" height="12" fill="#4a4de0"/><rect x="368.45" y="653.4" width="2" height="12" fill="#4a4de0"/>
<rect x="473.65" y="813.2" width="22" height="6" fill="#d8d8d8"/><rect x="476.65" y="813.2" width="2" height="6" fill="#9a9a9a"/><rect x="490.65" y="813.2" width="2" height="6" fill="#9a9a9a"/><path d="M469.4,813.2 H499.9 V799.2 H469.4 Z" fill="#3639d0"/><path d="M472.9,799.2 H496.4 L490.04999999999995,791.2 H479.25 Z" fill="#3639d0"/><rect x="479.25" y="780.2" width="10.8" height="11" fill="#3639d0"/><rect x="479.25" y="788.2" width="10.8" height="1" fill="#2629a8"/><rect x="479.25" y="785.2" width="10.8" height="1" fill="#2629a8"/><rect x="479.25" y="782.2" width="10.8" height="1" fill="#2629a8"/><rect x="470.75" y="783.2" width="5.3" height="18" fill="#3639d0" stroke="#2629a8" stroke-width="0.5"/><rect x="493.25" y="783.2" width="5.3" height="18" fill="#3639d0" stroke="#2629a8" stroke-width="0.5"/><rect x="470.15" y="800.2" width="2" height="12" fill="#4a4de0"/><rect x="497.15" y="800.2" width="2" height="12" fill="#4a4de0"/>
<path d="M260,646 V736.8 H86.3 V849" stroke="#1a96e0" stroke-width="2.4" fill="none"/>
<circle cx="260" cy="646" r="3.6" fill="#1a96e0"/>
<defs><radialGradient id="mouseg" cx="0.4" cy="0.3" r="0.7"><stop offset="0" stop-color="#2e2e2e"/><stop offset="0.7" stop-color="#141414"/><stop offset="1" stop-color="#0a0a0a"/></radialGradient><linearGradient id="rimg" x1="0" x2="1" y1="0" y2="0"><stop offset="0" stop-color="#9a9a9a"/><stop offset="0.3" stop-color="#3a3a3a"/><stop offset="0.5" stop-color="#c8c8c8"/><stop offset="0.75" stop-color="#4a4a4a"/><stop offset="1" stop-color="#a0a0a0"/></linearGradient></defs>
<path d="M457,374.4 C475,374.4 485.5,387 485.5,403 L484.5,428 C484,444 472,451.2 455.5,451.2 C439,451.2 427,444 426.5,428 L426.2,405 C426.2,386 439,374.4 457,374.4 Z" fill="url(#rimg)"/>
<path d="M457,376 C473,376 483,388 483,403 L482,426 C481,436 472,441 455.5,441 C439,441 430,436 429,426 L428.5,405 C428.5,388 440,376 457,376 Z" fill="url(#mouseg)"/>
<path d="M430,436 C436,446 447,449.5 455.5,449.5 C464,449.5 475,446 481,436" stroke="#1a1a1a" stroke-width="1.2" fill="none"/>
<ellipse cx="455" cy="416.4" rx="6.3" ry="17" fill="#1c1c1c" stroke="#9a9a9a" stroke-width="1.4"/>
<ellipse cx="455.5" cy="417" rx="2.6" ry="9" fill="#6a6a6a" stroke="#b0b0b0" stroke-width="0.8"/>
<rect x="816.3" y="398" width="91.7" height="148.5" rx="6" fill="#ebebeb"/><rect x="822" y="404" width="80" height="137" rx="3" fill="#f1f1f1" stroke="#e2e2e2" stroke-width="0.8"/><rect x="838.8" y="500" width="50.2" height="20.5" fill="#f6f6f6" stroke="#c4c4c4" stroke-width="0.8"/><rect x="836" y="425" width="58.5" height="85.5" rx="6" fill="#2d2e33"/>
<path d="M844.0,432 q3,8 0,16 t0,16 t0,16 t0,16" stroke="#18181b" stroke-width="1.8" fill="none"/>
<path d="M850.5,432 q3,8 0,16 t0,16 t0,16 t0,16" stroke="#18181b" stroke-width="1.8" fill="none"/>
<path d="M857.0,432 q3,8 0,16 t0,16 t0,16 t0,16" stroke="#18181b" stroke-width="1.8" fill="none"/>
<path d="M863.5,432 q3,8 0,16 t0,16 t0,16 t0,16" stroke="#18181b" stroke-width="1.8" fill="none"/>
<path d="M870.0,432 q3,8 0,16 t0,16 t0,16 t0,16" stroke="#18181b" stroke-width="1.8" fill="none"/>
<path d="M876.5,432 q3,8 0,16 t0,16 t0,16 t0,16" stroke="#18181b" stroke-width="1.8" fill="none"/>
<path d="M883.0,432 q3,8 0,16 t0,16 t0,16 t0,16" stroke="#18181b" stroke-width="1.8" fill="none"/>
<path d="M864.2,520 V562" stroke="#0a0a0a" stroke-width="3.6" fill="none"/>
<rect x="859.5" y="509" width="9.9" height="17.7" rx="2" fill="#1a1a1a"/>
<path d="M779.59,645.88 A26.72,26.72 0 0 1 815.01,645.88 L813.12,648.02 A23.87,23.87 0 0 0 781.48,648.02 Z" fill="#1a9ff0" stroke="#1a9ff0" stroke-width="1.84" stroke-linejoin="round"/><path d="M784.19,651.08 A19.79,19.79 0 0 1 810.41,651.08 L808.52,653.22 A16.93,16.93 0 0 0 786.08,653.22 Z" fill="#1a9ff0" stroke="#1a9ff0" stroke-width="1.84" stroke-linejoin="round"/><path d="M788.78,656.27 A12.85,12.85 0 0 1 805.82,656.27 L803.92,658.41 A10.00,10.00 0 0 0 790.68,658.41 Z" fill="#1a9ff0" stroke="#1a9ff0" stroke-width="1.84" stroke-linejoin="round"/><path d="M797.30,665.90 L793.96,662.19 A5.00,5.00 0 0 1 800.64,662.19 Z" fill="#1a9ff0" stroke="#1a9ff0" stroke-width="1.43" stroke-linejoin="round"/>
<path d="M898.59,645.88 A26.72,26.72 0 0 1 934.01,645.88 L932.12,648.02 A23.87,23.87 0 0 0 900.48,648.02 Z" fill="#1a9ff0" stroke="#1a9ff0" stroke-width="1.84" stroke-linejoin="round"/><path d="M903.19,651.08 A19.79,19.79 0 0 1 929.41,651.08 L927.52,653.22 A16.93,16.93 0 0 0 905.08,653.22 Z" fill="#1a9ff0" stroke="#1a9ff0" stroke-width="1.84" stroke-linejoin="round"/><path d="M907.78,656.27 A12.85,12.85 0 0 1 924.82,656.27 L922.92,658.41 A10.00,10.00 0 0 0 909.68,658.41 Z" fill="#1a9ff0" stroke="#1a9ff0" stroke-width="1.84" stroke-linejoin="round"/><path d="M916.30,665.90 L912.96,662.19 A5.00,5.00 0 0 1 919.64,662.19 Z" fill="#1a9ff0" stroke="#1a9ff0" stroke-width="1.43" stroke-linejoin="round"/>
<path d="M784,668 L790,668 L793,777 L787,777 Z" fill="#c8c8c8" stroke="#adadad" stroke-width="0.6"/>
<path d="M922,668 L928.4,668 L926,777 L920,777 Z" fill="#c8c8c8" stroke="#adadad" stroke-width="0.6"/>
<path d="M792,776 Q792,760 820,760 H896 Q921,760 921,776 L904,788 H803 Z" fill="#f4f4f4" stroke="#d0d0d0" stroke-width="0.8"/>
<path d="M797,776 H916 L904,788 H803 Z" fill="#d8d8d8"/>
<rect x="836" y="778" width="35" height="7" fill="#e8c020"/>
<rect x="837.5" y="779.5" width="6" height="4" fill="#6a5a10"/>
<rect x="846.0" y="779.5" width="6" height="4" fill="#6a5a10"/>
<rect x="854.5" y="779.5" width="6" height="4" fill="#6a5a10"/>
<rect x="863.0" y="779.5" width="6" height="4" fill="#6a5a10"/>
<rect x="880" y="778.5" width="4" height="6" fill="#222"/>
<path d="M806.4,668 L812.4,668 L815,786 L808,786 Z" fill="#cacaca" stroke="#adadad" stroke-width="0.6"/>
<path d="M902.4,668 L908.4,668 L906,786 L899,786 Z" fill="#cacaca" stroke="#adadad" stroke-width="0.6"/>
<rect x="838.4" y="723" width="14" height="51" rx="1" fill="#f4f4f4" stroke="#c8c8c8" stroke-width="0.7"/>
<path d="M840,730 H851 M840,735 H851 M840,740 H851" stroke="#cfcfcf" stroke-width="0.8"/>
<rect x="841" y="764" width="9" height="6" fill="#c8a890"/>
<ellipse cx="90" cy="934" rx="32" ry="4" fill="#ececec"/>
<defs><linearGradient id="spside" x1="0" x2="1" y1="0" y2="0"><stop offset="0" stop-color="#e4e4e4"/><stop offset="1" stop-color="#bdbdbd"/></linearGradient></defs><polygon points="105.5,849.5 120.3,864.5 120.3,926 105.5,930" fill="url(#spside)"/>
<rect x="58.7" y="849.5" width="48.3" height="80.3" rx="2" fill="#f6f6f6" stroke="#e0e0e0" stroke-width="0.6"/>
<rect x="68" y="929.8" width="6" height="2.5" fill="#333"/><rect x="96" y="929.8" width="6" height="2.5" fill="#333"/>
<circle cx="82.7" cy="868.7" r="7" fill="#151515"/><circle cx="82.7" cy="868.7" r="3.5" fill="#333"/><circle cx="81.5" cy="868" r="1" fill="#777"/><circle cx="84.2" cy="868" r="1" fill="#777"/>
<circle cx="83.2" cy="902.3" r="18.5" fill="#111"/><circle cx="83.2" cy="902.3" r="15" fill="#2e2e2e"/><circle cx="83.2" cy="902.3" r="10.5" fill="#383838"/><circle cx="84.2" cy="902.3" r="5.5" fill="#4a4a4a"/>
<circle cx="64.5" cy="856" r="1.1" fill="#aaa"/>
<circle cx="100" cy="856" r="1.1" fill="#aaa"/>
<circle cx="64.5" cy="923" r="1.1" fill="#aaa"/>
<circle cx="100" cy="923" r="1.1" fill="#aaa"/>
<rect x="188" y="824.3" width="171.7" height="98.2" fill="#1a1a1a"/>
<svg x="189.5" y="825.8" width="168.7" height="95.2" viewBox="0 0 200 120" preserveAspectRatio="none"><use href="#photos" width="200" height="120"/></svg>
<rect x="272.8" y="825.8" width="1.5" height="95.2" fill="#1a1a1a"/><rect x="189.5" y="872.9" width="168.7" height="1.5" fill="#1a1a1a"/>
<path d="M268,922.5 H279 L281,929 H267 Z" fill="#b8b8b8"/><path d="M266,928 L224,928.6 L225.5,930.6 L270,930.5 Z M282,928 L323,928.6 L321.5,930.6 L278,930.5 Z" fill="#c9c9c9" stroke="#a4a4a4" stroke-width="0.5"/><path d="M267,929.5 L216.5,935.6 L218,937 L272,932 Z M281,929.5 L332.5,935.6 L331,937 L276,932 Z" fill="#cfcfcf" stroke="#9c9c9c" stroke-width="0.6"/>
<rect x="386.7" y="827.2" width="135.7" height="90" rx="3" fill="#161616"/>
<path d="M467,827.2 H519.4 Q522.4,827.2 522.4,830.2 V833.7 H467 Z" fill="#3a3a3a"/>
<svg x="392" y="833.7" width="125.2" height="72.3" viewBox="0 0 200 120" preserveAspectRatio="none"><use href="#photos" width="200" height="120"/></svg>
<rect x="454.3" y="833.7" width="1.4" height="72.3" fill="#1a1a1a"/><rect x="392" y="869.3" width="125.2" height="1.4" fill="#1a1a1a"/>
<rect x="392" y="906" width="125.2" height="6" fill="#202020"/>
<g fill="#8a8a8a"><rect x="394" y="907.5" width="4" height="3"/><rect x="400" y="907.5" width="4" height="3"/><rect x="406" y="907.5" width="3" height="3"/><rect x="454" y="907.5" width="4" height="3"/><rect x="481" y="908" width="34" height="2"/></g>
<rect x="440.7" y="917.2" width="30" height="11.2" fill="url(#standg)"/>
<rect x="434" y="928.4" width="42" height="5.3" fill="#d6d6d6"/>
<path d="M801.94,826.22 A22.27,22.27 0 0 1 831.46,826.22 L829.88,828.00 A19.89,19.89 0 0 0 803.52,828.00 Z" fill="#1a9ff0" stroke="#1a9ff0" stroke-width="1.53" stroke-linejoin="round"/><path d="M805.77,830.55 A16.49,16.49 0 0 1 827.63,830.55 L826.05,832.33 A14.11,14.11 0 0 0 807.35,832.33 Z" fill="#1a9ff0" stroke="#1a9ff0" stroke-width="1.53" stroke-linejoin="round"/><path d="M809.60,834.88 A10.71,10.71 0 0 1 823.80,834.88 L822.22,836.66 A8.33,8.33 0 0 0 811.18,836.66 Z" fill="#1a9ff0" stroke="#1a9ff0" stroke-width="1.53" stroke-linejoin="round"/><path d="M816.70,842.90 L813.91,839.80 A4.17,4.17 0 0 1 819.49,839.80 Z" fill="#1a9ff0" stroke="#1a9ff0" stroke-width="1.19" stroke-linejoin="round"/>
<path d="M897.84,826.22 A22.27,22.27 0 0 1 927.36,826.22 L925.78,828.00 A19.89,19.89 0 0 0 899.42,828.00 Z" fill="#1a9ff0" stroke="#1a9ff0" stroke-width="1.53" stroke-linejoin="round"/><path d="M901.67,830.55 A16.49,16.49 0 0 1 923.53,830.55 L921.95,832.33 A14.11,14.11 0 0 0 903.25,832.33 Z" fill="#1a9ff0" stroke="#1a9ff0" stroke-width="1.53" stroke-linejoin="round"/><path d="M905.50,834.88 A10.71,10.71 0 0 1 919.70,834.88 L918.12,836.66 A8.33,8.33 0 0 0 907.08,836.66 Z" fill="#1a9ff0" stroke="#1a9ff0" stroke-width="1.53" stroke-linejoin="round"/><path d="M912.60,842.90 L909.81,839.80 A4.17,4.17 0 0 1 915.39,839.80 Z" fill="#1a9ff0" stroke="#1a9ff0" stroke-width="1.19" stroke-linejoin="round"/>
<rect x="745.3" y="848.2" width="130.2" height="92.5" rx="5" fill="#fbfbfb" stroke="#d9c8b0" stroke-width="1.2"/>
<svg x="755.8" y="854" width="108.2" height="81" viewBox="0 0 200 120" preserveAspectRatio="none"><use href="#photos" width="200" height="120"/></svg>
<rect x="809" y="854" width="1.3" height="81" fill="#222"/><rect x="755.8" y="894" width="108.2" height="1.3" fill="#222"/>
<rect x="755.8" y="854" width="108.2" height="81" fill="none" stroke="#222" stroke-width="0.8"/>
<circle cx="869.6" cy="894.7" r="3" fill="none" stroke="#ccc" stroke-width="0.8"/>
<circle cx="750.5" cy="894.7" r="0.9" fill="#555"/>
<rect x="890.8" y="849.5" width="43.5" height="91.2" rx="7" fill="#1c1c2a"/>
<rect x="892.6" y="851.3" width="39.9" height="87.6" rx="5.5" fill="#dcdcdc"/>
<path d="M892.6,860 V856.8 Q892.6,851.3 898,851.3 H927 Q932.5,851.3 932.5,856.8 V860 Z" fill="#3f9ae6"/>
<rect x="906" y="852.8" width="12" height="3" rx="1.5" fill="#111"/>
<svg x="892.6" y="860" width="39.9" height="23" viewBox="0 0 200 120" preserveAspectRatio="none"><use href="#photos" width="200" height="120"/></svg>
<rect x="892.6" y="883" width="39.9" height="4" fill="#f2f2f2"/>
</svg></div></body></html>
